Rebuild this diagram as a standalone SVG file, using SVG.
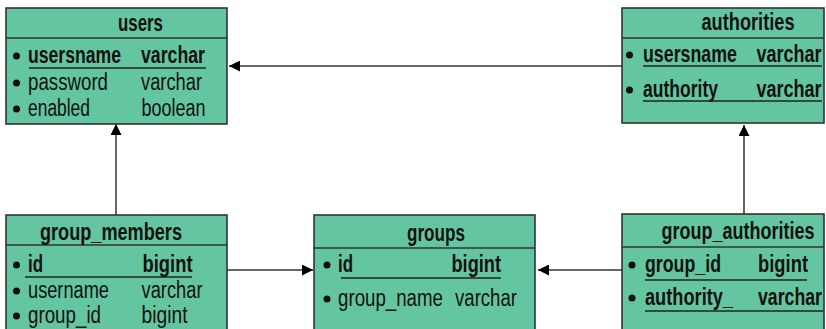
<svg xmlns="http://www.w3.org/2000/svg" width="826" height="329" viewBox="0 0 826 329">
<defs>
<style>
.box{fill:#64C6A0;stroke:#333;stroke-width:1.6}
.div{stroke:#333;stroke-width:1.6}
.ul{stroke:#222;stroke-width:1.6}
text{font-family:"Liberation Sans",Arial,sans-serif;font-size:23px;fill:#111}
.b{font-weight:bold}
.dot{fill:#111}
.con{stroke:#333;stroke-width:1.5;fill:none}
</style>
<marker id="ah" viewBox="0 0 10 10" refX="10" refY="5" markerWidth="11" markerHeight="11" markerUnits="userSpaceOnUse" orient="auto">
<path d="M0,0 L10,5 L0,10 z" fill="#000"/>
</marker>
</defs>
<g id="connectors">
<line class="con" x1="622" y1="66" x2="229" y2="66" marker-end="url(#ah)"/>
<line class="con" x1="116" y1="215" x2="116" y2="124" marker-end="url(#ah)"/>
<line class="con" x1="227" y1="270" x2="313" y2="270" marker-end="url(#ah)"/>
<line class="con" x1="622" y1="270" x2="538" y2="270" marker-end="url(#ah)"/>
<line class="con" x1="744" y1="214" x2="744" y2="125" marker-end="url(#ah)"/>
</g>
<g id="users">
<rect class="box" x="6" y="8" width="221" height="116"/>
<line class="div" x1="6" y1="38" x2="227" y2="38"/>
<text class="b" x="118" y="31" textLength="45" lengthAdjust="spacingAndGlyphs">users</text>
<circle class="dot" cx="16.5" cy="56" r="3.5"/>
<text class="b" x="28" y="63" textLength="93" lengthAdjust="spacingAndGlyphs">usersname</text>
<text class="b" x="141" y="63" textLength="64" lengthAdjust="spacingAndGlyphs">varchar</text>
<line class="ul" x1="29" y1="68" x2="206" y2="68"/>
<circle class="dot" cx="16.5" cy="83" r="3.5"/>
<text x="28" y="90" textLength="80" lengthAdjust="spacingAndGlyphs">password</text>
<text x="141" y="90" textLength="61" lengthAdjust="spacingAndGlyphs">varchar</text>
<circle class="dot" cx="16.5" cy="109" r="3.5"/>
<text x="28" y="116" textLength="62" lengthAdjust="spacingAndGlyphs">enabled</text>
<text x="141.5" y="116" textLength="64" lengthAdjust="spacingAndGlyphs">boolean</text>
</g>
<g id="authorities">
<rect class="box" x="622" y="8" width="202" height="115"/>
<line class="div" x1="622" y1="38" x2="824" y2="38"/>
<text class="b" x="701.5" y="30" textLength="93" lengthAdjust="spacingAndGlyphs">authorities</text>
<circle class="dot" cx="629.5" cy="55" r="3.5"/>
<text class="b" x="643" y="62" textLength="94" lengthAdjust="spacingAndGlyphs">usersname</text>
<text class="b" x="756.5" y="62" textLength="65" lengthAdjust="spacingAndGlyphs">varchar</text>
<line class="ul" x1="643" y1="66" x2="822" y2="66"/>
<circle class="dot" cx="629.5" cy="90" r="3.5"/>
<text class="b" x="643" y="97" textLength="75" lengthAdjust="spacingAndGlyphs">authority</text>
<text class="b" x="756.5" y="97" textLength="65" lengthAdjust="spacingAndGlyphs">varchar</text>
<line class="ul" x1="643" y1="101" x2="822" y2="101"/>
</g>
<g id="group_members">
<rect class="box" x="6" y="215" width="221" height="120"/>
<line class="div" x1="6" y1="245" x2="227" y2="245"/>
<text class="b" x="40" y="240" textLength="142" lengthAdjust="spacingAndGlyphs">group_members</text>
<circle class="dot" cx="16.5" cy="265" r="3.5"/>
<text class="b" x="28" y="272" textLength="15" lengthAdjust="spacingAndGlyphs">id</text>
<text class="b" x="142.5" y="272" textLength="50" lengthAdjust="spacingAndGlyphs">bigint</text>
<line class="ul" x1="25" y1="277" x2="192" y2="277"/>
<circle class="dot" cx="16.5" cy="291" r="3.5"/>
<text x="28" y="298" textLength="81" lengthAdjust="spacingAndGlyphs">username</text>
<text x="141.5" y="298" textLength="61" lengthAdjust="spacingAndGlyphs">varchar</text>
<circle class="dot" cx="16.5" cy="316" r="3.5"/>
<text x="28" y="323" textLength="73" lengthAdjust="spacingAndGlyphs">group_id</text>
<text x="141.5" y="323" textLength="46" lengthAdjust="spacingAndGlyphs">bigint</text>
</g>
<g id="groups">
<rect class="box" x="314" y="215" width="221" height="120"/>
<line class="div" x1="314" y1="248" x2="535" y2="248"/>
<text class="b" x="407" y="241" textLength="58" lengthAdjust="spacingAndGlyphs">groups</text>
<circle class="dot" cx="327" cy="265" r="3.5"/>
<text class="b" x="338" y="272" textLength="15" lengthAdjust="spacingAndGlyphs">id</text>
<text class="b" x="451.5" y="272" textLength="49.5" lengthAdjust="spacingAndGlyphs">bigint</text>
<line class="ul" x1="341" y1="278" x2="501" y2="278"/>
<circle class="dot" cx="327" cy="299" r="3.5"/>
<text x="338" y="306" textLength="105" lengthAdjust="spacingAndGlyphs">group_name</text>
<text x="455" y="306" textLength="62" lengthAdjust="spacingAndGlyphs">varchar</text>
</g>
<g id="group_authorities">
<rect class="box" x="622" y="214" width="202" height="121"/>
<line class="div" x1="622" y1="247" x2="824" y2="247"/>
<text class="b" x="661.5" y="239" textLength="153" lengthAdjust="spacingAndGlyphs">group_authorities</text>
<circle class="dot" cx="632" cy="265" r="3.5"/>
<text class="b" x="645" y="272" textLength="76" lengthAdjust="spacingAndGlyphs">group_id</text>
<text class="b" x="758" y="272" textLength="50" lengthAdjust="spacingAndGlyphs">bigint</text>
<line class="ul" x1="645" y1="280" x2="807" y2="280"/>
<circle class="dot" cx="632" cy="298" r="3.5"/>
<text class="b" x="645" y="305" textLength="88" lengthAdjust="spacingAndGlyphs">authority_</text>
<text class="b" x="758" y="305" textLength="64" lengthAdjust="spacingAndGlyphs">varchar</text>
<line class="ul" x1="645" y1="311" x2="823" y2="311"/>
</g>
</svg>
